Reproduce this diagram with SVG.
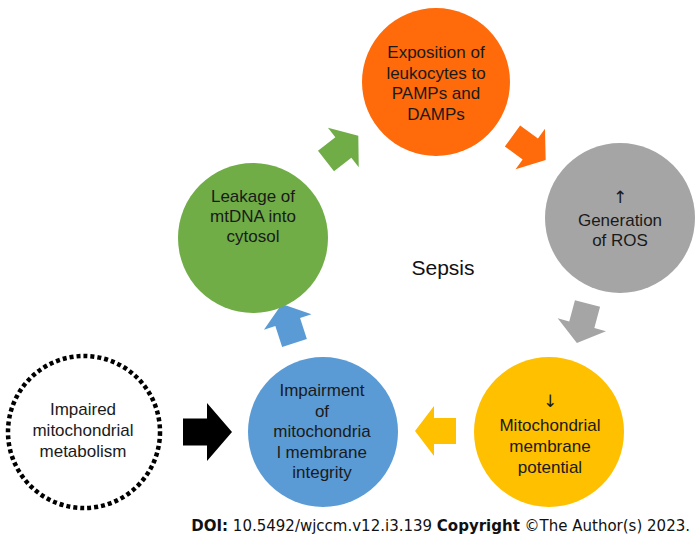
<svg xmlns="http://www.w3.org/2000/svg" xmlns:xlink="http://www.w3.org/1999/xlink" width="700" height="542" viewBox="0 0 700 542">
<style>
.t{font-family:"Liberation Sans",Arial,sans-serif;font-size:17px;fill:#1a1a1a;text-anchor:middle}
.a{font-family:"DejaVu Sans",sans-serif;font-size:17px;fill:#1a1a1a;text-anchor:middle}
.s{font-family:"Liberation Sans",Arial,sans-serif;font-size:21px;fill:#111;text-anchor:middle}
.d{font-family:"DejaVu Sans",Verdana,sans-serif;font-size:15px;fill:#111}
</style>
<defs>
<path id="arr" d="M0,-13 L22,-13 L22,-25 L41,0 L22,25 L22,13 L0,13 Z"/>
<path id="arrb" d="M0,-13.5 L24,-13.5 L24,-29 L49,0 L24,29 L24,13.5 L0,13.5 Z"/>
</defs>
<rect width="700" height="542" fill="#fff"/>
<g id="connectors">
<use xlink:href="#arr" href="#arr" fill="#70AD47" transform="translate(326,161) rotate(-38)"/>
<use xlink:href="#arr" href="#arr" fill="#FF6A0A" transform="translate(512.5,136) rotate(36)"/>
<use xlink:href="#arr" href="#arr" fill="#A5A5A5" transform="translate(587.5,303.5) rotate(105)"/>
<use xlink:href="#arr" href="#arr" fill="#FFC000" transform="translate(456,431) rotate(180)"/>
<use xlink:href="#arr" href="#arr" fill="#5B9BD5" transform="translate(294.5,343) rotate(-108)"/>
<use xlink:href="#arrb" href="#arrb" fill="#000" transform="translate(183,432)"/>
</g>
<g id="node-exposition">
<circle cx="436" cy="82" r="74" fill="#FF6A0A"/>
<text class="t" x="436" y="58">Exposition of</text>
<text class="t" x="436" y="78.5">leukocytes to</text>
<text class="t" x="436" y="99">PAMPs and</text>
<text class="t" x="436" y="119.5">DAMPs</text>
</g>
<g id="node-ros">
<circle cx="620" cy="218" r="75" fill="#A5A5A5"/>
<text class="a" x="620" y="203">↑</text>
<text class="t" x="620" y="226">Generation</text>
<text class="t" x="620" y="246">of ROS</text>
</g>
<g id="node-potential">
<circle cx="549" cy="432" r="75" fill="#FFC000"/>
<text class="a" x="550" y="407">↓</text>
<text class="t" x="550" y="431">Mitochondrial</text>
<text class="t" x="550" y="452">membrane</text>
<text class="t" x="550" y="473">potential</text>
</g>
<g id="node-integrity">
<circle cx="323" cy="432" r="75" fill="#5B9BD5"/>
<text class="t" x="322" y="396">Impairment</text>
<text class="t" x="322" y="417">of</text>
<text class="t" x="322" y="437">mitochondria</text>
<text class="t" x="322" y="458">l membrane</text>
<text class="t" x="322" y="478">integrity</text>
</g>
<g id="node-leakage">
<circle cx="253" cy="238" r="75" fill="#70AD47"/>
<text class="t" x="253" y="202">Leakage of</text>
<text class="t" x="253" y="222">mtDNA into</text>
<text class="t" x="253" y="242">cytosol</text>
</g>
<g id="node-metabolism">
<circle cx="84" cy="432" r="76" fill="none" stroke="#000" stroke-width="4.5" stroke-dasharray="4 3"/>
<text class="t" x="83" y="415">Impaired</text>
<text class="t" x="83" y="436">mitochondrial</text>
<text class="t" x="83" y="457">metabolism</text>
</g>
<g id="label-sepsis">
<text class="s" x="443" y="275">Sepsis</text>
</g>
<g id="credit">
<text class="d" x="690" y="531" text-anchor="end"><tspan font-weight="bold">DOI:</tspan> 10.5492/wjccm.v12.i3.139 <tspan font-weight="bold">Copyright</tspan> ©The Author(s) 2023.</text>
</g>
</svg>
